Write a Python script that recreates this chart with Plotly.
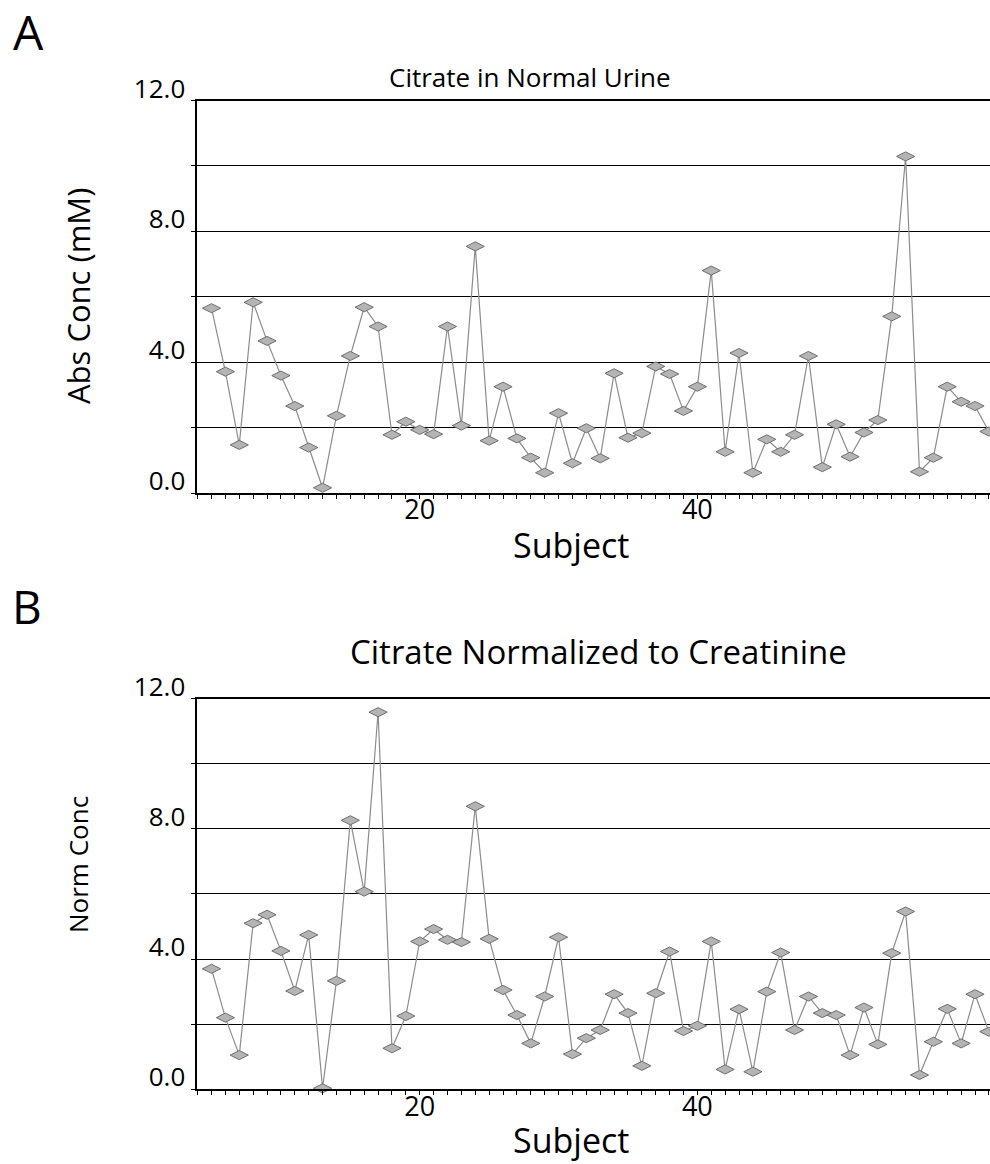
import plotly.graph_objects as go

# Subject numbers (x) and the two citrate series (y)
subjects = list(range(5, 62))

abs_conc = [
    5.65, 3.71, 1.47, 5.83, 4.65, 3.59, 2.66, 1.39, 0.16, 2.36,
    4.19, 5.68, 5.09, 1.78, 2.18, 1.93, 1.80, 5.09, 2.06, 7.54,
    1.60, 3.25, 1.67, 1.08, 0.62, 2.44, 0.91, 1.98, 1.06, 3.66,
    1.69, 1.83, 3.87, 3.64, 2.51, 3.25, 6.80, 1.26, 4.28, 0.62,
    1.64, 1.26, 1.78, 4.19, 0.79, 2.10, 1.11, 1.85, 2.23, 5.40,
    10.29, 0.65, 1.08, 3.25, 2.79, 2.66, 1.88,
]

norm_conc = [
    3.70, 2.20, 1.05, 5.10, 5.36, 4.25, 3.02, 4.74, 0.03, 3.33,
    8.26, 6.07, 11.58, 1.26, 2.25, 4.54, 4.92, 4.59, 4.52, 8.69,
    4.62, 3.05, 2.28, 1.41, 2.85, 4.67, 1.08, 1.57, 1.82, 2.92,
    2.34, 0.72, 2.95, 4.23, 1.79, 1.95, 4.54, 0.61, 2.46, 0.54,
    3.00, 4.20, 1.82, 2.85, 2.34, 2.28, 1.05, 2.51, 1.38, 4.18,
    5.46, 0.44, 1.46, 2.47, 1.41, 2.92, 1.77,
]

x_ticks = [20, 40]
y_ticks = [0, 4, 8, 12]
y_ticktext = ["0.0", "4.0", "8.0", "12.0"]

FONT = "Open Sans"
W, H = 990, 1164

line_style = dict(color="#8c8c8c", width=1.2)
marker_style = dict(symbol="diamond-wide", size=13, color="#b4b4b4",
                    line=dict(color="#6e6e6e", width=1))

fig = go.Figure()
fig.add_trace(go.Scatter(x=subjects, y=abs_conc, mode="lines+markers",
                         line=line_style, marker=marker_style,
                         xaxis="x", yaxis="y", cliponaxis=False,
                         showlegend=False))
fig.add_trace(go.Scatter(x=subjects, y=norm_conc, mode="lines+markers",
                         line=line_style, marker=marker_style,
                         xaxis="x2", yaxis="y2", cliponaxis=False,
                         showlegend=False))

x_left = 196.5 / W
dom_a = [1 - 493 / H, 1 - 100.5 / H]
dom_b = [1 - 1089.3 / H, 1 - 698.5 / H]


def xaxis_cfg(anchor):
    # mirror=True repeats the axis line along the top edge (the 12.0 line)
    return dict(
        domain=[x_left, 1], range=[3.92, 61.08], anchor=anchor,
        tickvals=x_ticks, ticks="", ticklabelstandoff=-8,
        showline=True, linecolor="black", linewidth=1.6, mirror=True,
        showgrid=False, zeroline=False, automargin=False,
        tickfont=dict(family=FONT, size=27, color="black"),
        minor=dict(dtick=1, tick0=0, ticks="outside", ticklen=4,
                   tickcolor="black", tickwidth=1, showgrid=False),
    )


def yaxis_cfg(anchor, domain):
    return dict(
        domain=domain, range=[0, 12], anchor=anchor,
        tickvals=y_ticks, ticktext=y_ticktext, ticks="outside", ticklen=4,
        tickcolor="black", showline=True, linecolor="black", linewidth=2,
        showgrid=True, gridcolor="black", gridwidth=1, zeroline=False,
        automargin=False,
        tickfont=dict(family=FONT, size=26, color="black"),
        ticklabelshift=-12,
        minor=dict(dtick=2, tick0=0, ticks="outside", ticklen=4,
                   tickcolor="black", showgrid=True, gridcolor="black",
                   gridwidth=1),
    )


fig.update_layout(
    width=W, height=H,
    margin=dict(l=0, r=0, t=0, b=0, pad=0, autoexpand=False),
    paper_bgcolor="white", plot_bgcolor="white",
    font=dict(family=FONT, color="black"),
    xaxis=xaxis_cfg("y"),
    yaxis=yaxis_cfg("x", dom_a),
    xaxis2=xaxis_cfg("y2"),
    yaxis2=yaxis_cfg("x2", dom_b),
)

annotations = [
    dict(text="A", x=28, y=31, size=48),
    dict(text="B", x=27, y=606, size=46),
    dict(text="Citrate in Normal Urine", x=530, y=77, size=26),
    dict(text="Citrate Normalized to Creatinine", x=598, y=651, size=33),
    dict(text="Subject", x=571, y=545, size=34),
    dict(text="Subject", x=571, y=1140, size=34),
    dict(text="Abs Conc (mM)", x=78, y=296, size=31, angle=-90),
    dict(text="Norm Conc", x=78, y=865, size=26, angle=-90),
]
ann_objs = []
for a in annotations:
    ann_objs.append(dict(
        text=a["text"], x=a["x"] / W, y=1 - a["y"] / H,
        xref="paper", yref="paper", showarrow=False,
        xanchor="center", yanchor="middle", textangle=a.get("angle", 0),
        font=dict(family=FONT, size=a["size"], color="black"),
    ))
fig.update_layout(annotations=ann_objs)

fig.write_html("out.html")
